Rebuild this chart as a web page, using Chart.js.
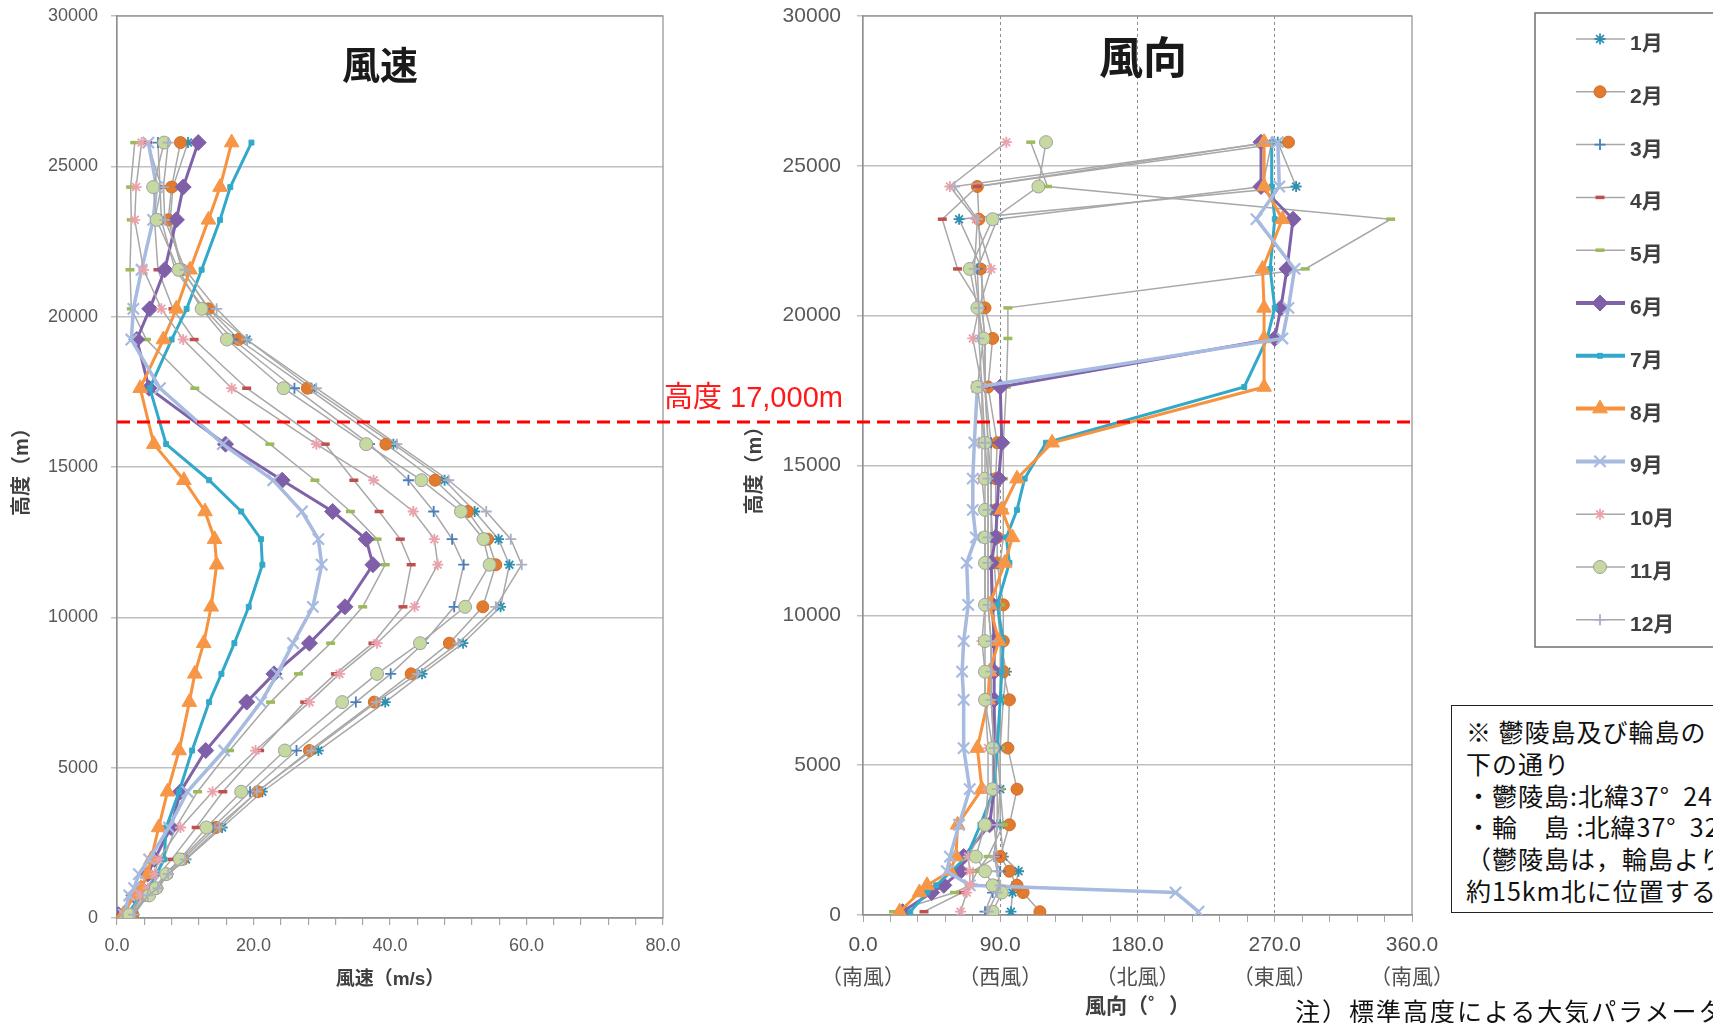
<!DOCTYPE html>
<html lang="ja">
<head>
<meta charset="utf-8">
<title>風速・風向の鉛直分布</title>
<script src="https://cdn.jsdelivr.net/npm/chart.js@4.4.1/dist/chart.umd.min.js"></script>
<style>
html, body { margin: 0; padding: 0; background: #fff; }
body { width: 1713px; height: 1023px; position: relative; overflow: hidden;
       font-family: "Noto Sans CJK JP", "Liberation Sans", sans-serif; }
canvas { position: absolute; top: 0; }
#speedChart { left: 0; }
#dirChart { left: 740px; }
.t { position: absolute; white-space: nowrap; z-index: 5; }
.ttl { font-weight: bold; color: #1a1a1a; transform: translate(-50%, -50%); }
#cutLabel { left: 664px; top: 373px; font-size: 29px; color: #ff1a1a; font-family: "Liberation Sans", "Noto Sans CJK JP", sans-serif; }
.lg { left: 1630px; font-size: 21px; font-weight: bold; color: #404040; font-family: "Liberation Sans", "Noto Sans CJK JP", sans-serif; }
#note { position: absolute; left: 1451px; top: 705px; width: 320px; height: 208px; border: 1.5px solid #222;
        z-index: 5; font-size: 25px; letter-spacing: 1px; line-height: 31.8px; color: #111; padding: 10px 0 0 14px;
        box-sizing: border-box; white-space: pre; overflow: hidden; background: #fff; }
#foot { left: 1295px; top: 992px; font-size: 25px; color: #111; letter-spacing: 2px; }
</style>
</head>
<body>
<canvas id="speedChart" width="740" height="1023"></canvas>
<canvas id="dirChart" width="973" height="1023"></canvas>

<div class="t ttl" style="left:380px; top:62px; font-size:38px;">風速</div>
<div class="t ttl" style="left:1143px; top:55px; font-size:44px;">風向</div>
<div class="t" id="cutLabel">高度 17,000m</div>
<div id="legendLabels"></div>
<div id="note">※ 鬱陵島及び輪島の
下の通り
・鬱陵島:北緯37°  24
・輪　島 :北緯37°  32
（鬱陵島は，輪島より南
約15km北に位置する）</div>
<div class="t" id="foot">注）標準高度による大気パラメータ</div>

<script>
// 高度 (m)
const levels = [110, 750, 990, 1460, 1950, 3010, 4200, 5570, 7180, 8120, 9140, 10350,
                11750, 12600, 13520, 14560, 15760, 17620, 19240, 20260, 21560, 23220, 24310, 25790];
const months = ['1月', '2月', '3月', '4月', '5月', '6月', '7月', '8月', '9月', '10月', '11月', '12月'];

// 風速 (m/s)
const speedJan = [2.5, 4.5, 6.0, 7.5, 10.1, 15.4, 21.3, 29.5, 39.3, 44.7, 50.7, 56.2, 57.5, 55.9, 52.4, 48.0, 40.5, 28.5, 19.0, 13.5, 9.5, 7.8, 8.2, 10.4];
const speedFeb = [2.3, 4.3, 5.8, 7.3, 9.6, 14.5, 20.6, 28.2, 37.7, 43.1, 48.7, 53.6, 55.5, 54.3, 51.4, 46.6, 39.4, 27.9, 17.8, 13.4, 9.5, 7.5, 8.0, 9.3];
const speedMar = [2.2, 4.2, 5.6, 7.0, 9.3, 14.0, 19.5, 26.3, 35.0, 40.1, 44.9, 49.4, 50.8, 49.1, 46.4, 42.7, 37.0, 26.0, 17.0, 12.8, 8.5, 6.5, 6.3, 6.0];
const speedApr = [2.0, 3.8, 5.0, 6.2, 8.0, 11.6, 15.5, 20.9, 27.5, 32.0, 37.5, 41.9, 43.1, 41.5, 38.4, 34.7, 30.5, 19.0, 11.3, 8.2, 6.0, 5.5, 6.5, 4.5];
const speedMay = [1.8, 3.5, 4.6, 5.6, 6.8, 8.6, 11.8, 16.5, 22.5, 26.6, 31.3, 36.0, 39.3, 38.1, 34.2, 29.0, 22.4, 11.4, 4.3, 2.1, 1.9, 2.1, 2.0, 2.6];
const speedJun = [0.2, 2.5, 3.5, 4.5, 5.5, 7.9, 9.3, 13.0, 19.0, 23.0, 28.2, 33.4, 37.5, 36.5, 31.6, 24.2, 15.9, 4.7, 2.9, 4.8, 7.0, 8.7, 9.7, 11.9];
const speedJul = [1.5, 3.5, 4.5, 5.8, 6.9, 7.2, 9.1, 11.0, 13.5, 15.3, 17.2, 19.3, 21.3, 21.1, 18.2, 13.5, 7.2, 4.8, 8.0, 10.2, 12.4, 15.1, 16.6, 19.7];
const speedAug = [0.9, 2.5, 3.5, 4.5, 5.0, 6.1, 7.4, 9.1, 10.6, 11.4, 12.7, 13.8, 14.6, 14.3, 12.9, 9.8, 5.4, 3.4, 6.8, 8.7, 10.7, 13.4, 15.1, 16.8];
const speedSep = [1.0, 1.8, 2.5, 3.2, 4.7, 7.6, 10.3, 15.7, 21.1, 23.5, 25.8, 28.7, 30.0, 29.5, 27.1, 22.9, 15.5, 6.3, 2.1, 2.4, 3.6, 5.3, 5.8, 4.6];
const speedOct = [1.8, 3.4, 4.5, 5.5, 6.1, 9.3, 14.0, 20.3, 28.2, 32.6, 38.1, 43.6, 47.0, 46.5, 43.4, 37.6, 29.2, 16.8, 9.7, 6.5, 3.9, 2.6, 2.8, 3.6];
const speedNov = [1.8, 4.7, 5.7, 7.2, 9.2, 13.1, 18.2, 24.6, 33.0, 38.1, 44.4, 51.0, 54.6, 53.7, 50.4, 44.6, 36.5, 24.4, 16.1, 12.4, 9.0, 5.8, 5.3, 6.9];
const speedDec = [2.4, 4.5, 6.0, 7.5, 10.0, 15.0, 20.5, 28.5, 38.0, 44.0, 50.0, 55.5, 59.3, 57.7, 54.1, 48.6, 41.0, 29.2, 19.0, 14.6, 10.0, 7.0, 6.8, 7.5];

// 風向 (°)
const dirJan = [97, 98, 100, 102, 92, 90, 90, 90, 92, 94, 90, 88, 86, 85, 84, 84, 82, 80, 80, 78, 78, 63, 284, 272];
const dirFeb = [116, 105, 101, 96, 90, 96, 101, 95, 96, 92, 92, 92, 88, 88, 87, 87, 88, 82, 85, 80, 77, 76, 75, 279];
const dirMar = [80, 85, 88, 90, 86, 88, 90, 88, 86, 86, 86, 84, 84, 84, 84, 84, 84, 80, 78, 76, 75, 88, 262, 268];
const dirApr = [40, 65, 72, 72, 88, 86, 86, 86, 84, 84, 84, 82, 82, 82, 82, 82, 82, 80, 80, 78, 62, 52, 75, 266];
const dirMay = [20, 60, 70, 75, 82, 92, 90, 90, 90, 90, 90, 90, 90, 92, 92, 92, 92, 94, 95, 95, 290, 346, 121, 110];
const dirJun = [26, 45, 53, 64, 66, 83, 86, 86, 86, 86, 86, 85, 84, 87, 88, 89, 91, 90, 270, 274, 278, 282, 261, 261];
const dirJul = [31, 42, 48, 58, 68, 77, 86, 88, 90, 91, 92, 88, 96, 94, 101, 106, 120, 250, 265, 270, 267, 270, 268, 268];
const dirAug = [24, 37, 42, 57, 61, 62, 78, 75, 82, 83, 89, 83, 93, 98, 91, 101, 124, 263, 263, 263, 262, 275, 263, 263];
const dirSep = [220, 205, 70, 55, 57, 63, 70, 66, 66, 65, 66, 69, 68, 74, 72, 72, 73, 75, 275, 279, 283, 258, 273, 272];
const dirOct = [64, 68, 70, 70, 69, 80, 82, 82, 80, 80, 78, 80, 80, 80, 80, 78, 78, 78, 72, 76, 84, 74, 57, 94];
const dirNov = [85, 91, 85, 80, 74, 80, 85, 85, 80, 80, 80, 80, 80, 80, 80, 80, 80, 75, 79, 75, 70, 85, 115, 120];
const dirDec = [82, 88, 90, 88, 86, 88, 88, 86, 84, 84, 84, 82, 82, 82, 82, 82, 80, 78, 76, 76, 73, 75, 60, 268];

const speedTickLabels = ['0.0', '20.0', '40.0', '60.0', '80.0'];
const dirTickLabels = ['0.0', '90.0', '180.0', '270.0', '360.0'];
const dirNames = ['（南風）', '（西風）', '（北風）', '（東風）', '（南風）'];
const cutHeight = 16500; // 高度 17,000m の線

const speeds = [speedJan, speedFeb, speedMar, speedApr, speedMay, speedJun, speedJul, speedAug, speedSep, speedOct, speedNov, speedDec];
const dirs = [dirJan, dirFeb, dirMar, dirApr, dirMay, dirJun, dirJul, dirAug, dirSep, dirOct, dirNov, dirDec];

const GRAY = '#a8a8a8';
const styles = [
  {line: GRAY, w: 1.5, ps: 'star', r: 5.5, fill: '#2f8fb0', edge: '#2f8fb0', bw: 1.8},
  {line: GRAY, w: 1.5, ps: 'circle', r: 6, fill: '#e07b30', edge: '#cf6e2a', bw: 1},
  {line: GRAY, w: 1.5, ps: 'cross', r: 5.5, fill: '#4a7ebb', edge: '#4a7ebb', bw: 1.8},
  {line: GRAY, w: 1.5, ps: 'line', r: 4.5, fill: '#c0504d', edge: '#c0504d', bw: 3.5},
  {line: GRAY, w: 1.5, ps: 'line', r: 4.5, fill: '#9bbb59', edge: '#9bbb59', bw: 3.5},
  {line: '#7f62a8', w: 3, ps: 'rectRot', r: 8, fill: '#7e5fa8', edge: '#7e5fa8', bw: 1},
  {line: '#33a9c9', w: 3, ps: 'rect', r: 3.5, fill: '#33a9c9', edge: '#33a9c9', bw: 1},
  {line: '#f7923f', w: 3, ps: 'triangle', r: 8.5, fill: '#f79646', edge: '#f79646', bw: 1},
  {line: '#a7badf', w: 3.5, ps: 'crossRot', r: 8, fill: '#a7badf', edge: '#a7badf', bw: 2.2},
  {line: GRAY, w: 1.5, ps: 'star', r: 5.5, fill: '#eaa3ad', edge: '#eaa3ad', bw: 1.8},
  {line: GRAY, w: 1.5, ps: 'circle', r: 6.5, fill: '#c6d9a0', edge: '#a0a0a0', bw: 1},
  {line: GRAY, w: 1.5, ps: 'cross', r: 5.5, fill: '#a9b0c3', edge: '#a9b0c3', bw: 1.8}
];

function makeSets(values) {
  return months.map((m, i) => {
    const s = styles[i];
    return {
      label: m,
      data: levels.map((h, k) => ({x: values[i][k], y: h})),
      showLine: true, tension: 0,
      borderColor: s.line, borderWidth: s.w,
      pointStyle: s.ps, pointRadius: s.r, pointBackgroundColor: s.fill,
      pointBorderColor: s.edge, pointBorderWidth: s.bw,
      order: 11 - i
    };
  });
}

const FONT = '"Liberation Sans", "Noto Sans CJK JP", sans-serif';
const tickFont = {family: FONT, size: 18};
let cutY = null;
let leftEdge = 117;

const frame = {
  id: 'frame',
  beforeDatasetsDraw(chart) {
    const {ctx, chartArea: a} = chart;
    ctx.save();
    ctx.strokeStyle = '#8f8f8f';
    ctx.lineWidth = 1.2;
    ctx.strokeRect(a.left, a.top, a.right - a.left, a.bottom - a.top);
    ctx.restore();
  }
};

const cutLeft = {
  id: 'cutLeft',
  afterDatasetsDraw(chart) {
    const {ctx, chartArea: a, scales} = chart;
    cutY = Math.round(scales.y.getPixelForValue(cutHeight));
    leftEdge = a.left;
    ctx.save();
    ctx.strokeStyle = '#ff0000';
    ctx.lineWidth = 3;
    ctx.setLineDash([13, 7]);
    ctx.beginPath();
    ctx.moveTo(a.left, cutY);
    ctx.lineTo(chart.width, cutY);
    ctx.stroke();
    ctx.restore();
  }
};

const cutRight = {
  id: 'cutRight',
  afterDatasetsDraw(chart) {
    const {ctx, chartArea: a, scales} = chart;
    const y = cutY !== null ? cutY : Math.round(scales.y.getPixelForValue(cutHeight));
    ctx.save();
    ctx.strokeStyle = '#ff0000';
    ctx.lineWidth = 3;
    ctx.setLineDash([13, 7]);
    ctx.lineDashOffset = 740 - leftEdge;
    ctx.beginPath();
    ctx.moveTo(0, y);
    ctx.lineTo(a.right + 3, y);
    ctx.stroke();
    ctx.restore();
  }
};

function marker(ctx, ds, x, y) {
  ctx.fillStyle = ds.pointBackgroundColor;
  ctx.strokeStyle = ds.pointBorderColor;
  ctx.lineWidth = ds.pointBorderWidth;
  Chart.helpers.drawPoint(ctx, {pointStyle: ds.pointStyle, radius: ds.pointRadius, rotation: 0, borderWidth: ds.pointBorderWidth}, x, y);
}

const legendBox = {
  id: 'legendBox',
  afterDraw(chart) {
    const ctx = chart.ctx, ox = 740;
    ctx.save();
    ctx.strokeStyle = '#6f6f6f';
    ctx.lineWidth = 1.5;
    ctx.strokeRect(1535 - ox, 13, 220, 634);
    chart.data.datasets.forEach((ds, i) => {
      const cy = 39 + 52.8 * i;
      ctx.strokeStyle = ds.borderColor;
      ctx.lineWidth = ds.borderWidth > 2 ? 4 : 1.5;
      ctx.beginPath();
      ctx.moveTo(1576 - ox, cy);
      ctx.lineTo(1625 - ox, cy);
      ctx.stroke();
      marker(ctx, ds, 1600 - ox, cy);
    });
    ctx.restore();
  }
};

// y 軸の幅を固定し、ラベル分の余白は付けない
function fixY(width) {
  return s => { s.width = width; s.paddingTop = 0; s.paddingBottom = 0; };
}

new Chart(document.getElementById('speedChart'), {
  type: 'scatter',
  data: {datasets: makeSets(speeds)},
  options: {
    responsive: false, animation: false, devicePixelRatio: 1,
    layout: {padding: {top: 16, right: 77, left: 0, bottom: 0}},
    plugins: {legend: {display: false}, tooltip: {enabled: false}},
    scales: {
      x: {
        type: 'linear', min: 0, max: 80,
        ticks: {stepSize: 4, autoSkip: false, maxRotation: 0, padding: 10, color: '#595959', font: tickFont,
                callback: v => (v % 20 === 0 ? speedTickLabels[v / 20] : '')},
        grid: {drawOnChartArea: false, drawTicks: true, tickLength: 7, tickColor: '#a6a6a6', lineWidth: 1.2},
        border: {color: '#8f8f8f', width: 1.2},
        title: {display: true, text: '風速（m/s）', color: '#404040', font: {family: FONT, size: 19, weight: 'bold'}, padding: {top: 0, bottom: 32}},
        afterFit: s => { s.height = 105; }
      },
      y: {
        type: 'linear', min: 0, max: 30000,
        ticks: {stepSize: 5000, padding: 13, color: '#595959', font: tickFont, callback: v => String(v)},
        grid: {color: '#c0c0c0', lineWidth: 1.5, tickLength: 6},
        border: {color: '#8f8f8f', width: 1.2},
        title: {display: true, text: '高度（m）', color: '#404040', font: {family: FONT, size: 20, weight: 'bold'}, padding: {top: 10, bottom: 0}},
        afterFit: fixY(117)
      }
    }
  },
  plugins: [frame, cutLeft]
});

new Chart(document.getElementById('dirChart'), {
  type: 'scatter',
  data: {datasets: makeSets(dirs)},
  options: {
    responsive: false, animation: false, devicePixelRatio: 1,
    layout: {padding: {top: 16, right: 301, left: 0, bottom: 0}},
    plugins: {legend: {display: false}, tooltip: {enabled: false}},
    scales: {
      x: {
        type: 'linear', min: 0, max: 360,
        ticks: {stepSize: 18, autoSkip: false, maxRotation: 0, padding: 6, color: '#505050',
                font: {family: FONT, size: 21, lineHeight: 1.6},
                callback: v => (v % 90 === 0 ? [dirTickLabels[v / 90], dirNames[v / 90]] : '')},
        grid: {
          drawOnChartArea: true, tickLength: 7, tickColor: '#a6a6a6', lineWidth: 1,
          color: c => (c.tick && c.tick.value % 90 === 0 && c.tick.value > 0 && c.tick.value < 360) ? '#8c8c8c' : 'rgba(0,0,0,0)'
        },
        border: {color: '#8f8f8f', width: 1.2, dash: [3, 3]},
        title: {display: true, text: '風向（゜）', color: '#404040', font: {family: FONT, size: 21, weight: 'bold'}, padding: {top: 0, bottom: 3}},
        afterFit: s => { s.height = 108; }
      },
      y: {
        type: 'linear', min: 0, max: 30000,
        ticks: {stepSize: 5000, padding: 16, color: '#595959', font: {family: FONT, size: 21}, callback: v => String(v)},
        grid: {color: '#c0c0c0', lineWidth: 1.5, tickLength: 6},
        border: {color: '#8f8f8f', width: 1.2},
        title: {display: true, text: '高度（m）', color: '#404040', font: {family: FONT, size: 20, weight: 'bold'}, padding: {top: 3, bottom: 0}},
        afterFit: fixY(123)
      }
    }
  },
  plugins: [frame, cutRight, legendBox]
});

// 凡例の文字
const lgHost = document.getElementById('legendLabels');
months.forEach((m, i) => {
  const d = document.createElement('div');
  d.className = 't lg';
  d.style.top = (39 + 52.8 * i - 13) + 'px';
  d.textContent = m;
  lgHost.appendChild(d);
});
</script>
</body>
</html>
